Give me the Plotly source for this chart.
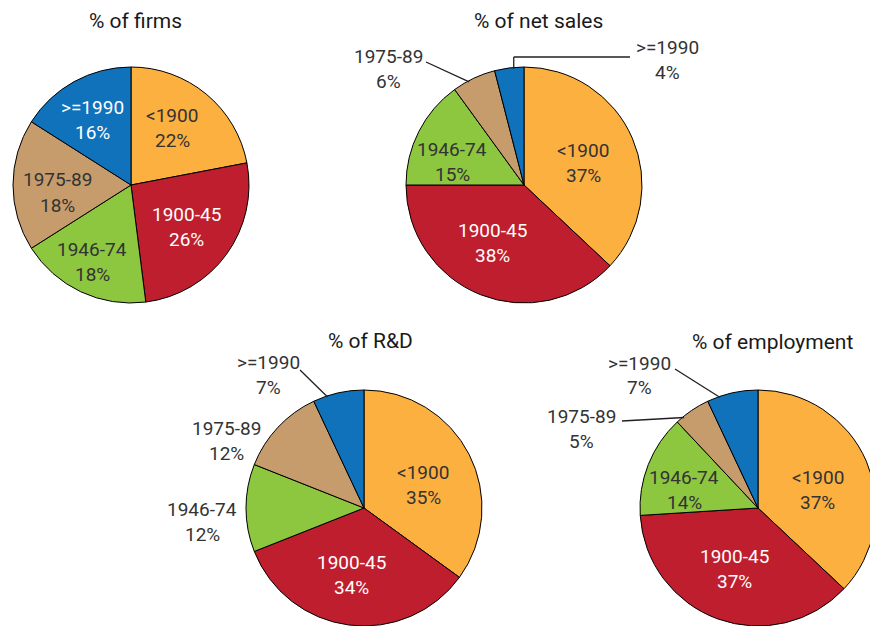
import math
import plotly.graph_objects as go

W, H = 870, 626          # window size
FIG_W = 880              # figure slightly wider than the window so the last pie can run off the edge

# ---------------- data ----------------
categories = ["<1900", "1900-45", "1946-74", "1975-89", ">=1990"]
firms = [22, 26, 18, 18, 16]
net_sales = [37, 38, 15, 6, 4]
rnd = [35, 34, 12, 12, 7]
employment = [37, 37, 14, 5, 7]
titles = ["% of firms", "% of net sales", "% of R&D", "% of employment"]

# ---------------- style / layout ----------------
colors = ["#FBB040", "#BE1E2D", "#8DC63F", "#C69C6D", "#0F72BA"]
text_colors = ["#333333", "#FFFFFF", "#333333", "#333333", "#FFFFFF"]
FONT = "Roboto"
LABEL_SIZE = 19
TITLE_SIZE = 21
LINE_GAP = 25
LINE_COLOR = "#231F20"

# label placement per slice (px offsets of the label block from the pie centre):
# ("in", dx, dy) or
# ("out", dx, dy, connector kind, connector start (dx, dy), fraction of the slice where it ends)
firms_lbl = [("in", 41, -57), ("in", 55, 41.5), ("in", -39, 76.5), ("in", -74, 7.5), ("in", -39, -65)]
sales_lbl = [("in", 59, -22.5), ("in", -31, 58), ("in", -72, -23),
             ("out", -136, -116, "line", (-98, -123), 0.37),
             ("out", 143, -125, "elbow", (106, -128), 0.65)]
rnd_lbl = [("in", 59, -23), ("in", -13, 67),
           ("out", -162, 13.5, None, None, None),
           ("out", -138, -67.5, None, None, None),
           ("out", -96, -133, "line", (-64, -138), 0.28)]
emp_lbl = [("in", 59.5, -18), ("in", -24, 61), ("in", -74, -18),
           ("out", -177, -79.5, "line", (-136, -87), 0.22),
           ("out", -119, -132.5, "line", (-83, -139), 0.25)]

pies = [
    dict(values=firms, title=titles[0], cx=131, cy=185, r=118, title_xy=(135, 21), lbl=firms_lbl),
    dict(values=net_sales, title=titles[1], cx=524, cy=185, r=118, title_xy=(538, 21), lbl=sales_lbl),
    dict(values=rnd, title=titles[2], cx=364, cy=508, r=118, title_xy=(370, 341), lbl=rnd_lbl),
    dict(values=employment, title=titles[3], cx=758, cy=509, r=118, title_xy=(772, 342), lbl=emp_lbl),
]


def px(x):
    return x / FIG_W


def py(y):
    return 1 - y / H


fig = go.Figure()
annotations = []
shapes = []

for p in pies:
    x0 = max(0.0, px(p["cx"] - p["r"]))
    x1 = min(1.0, px(p["cx"] + p["r"]))
    y0 = max(0.0, py(p["cy"] + p["r"]))
    y1 = min(1.0, py(p["cy"] - p["r"]))
    if y0 <= 0.0 and y1 < 1:
        y1 = min(1.0, 2 * p["r"] / H)
    # actual geometry as plotly renders it (window pixels)
    acx = (x0 + x1) / 2 * FIG_W
    acy = (1 - (y0 + y1) / 2) * H
    ar = min((x1 - x0) * FIG_W, (y1 - y0) * H) / 2

    fig.add_trace(go.Pie(
        values=p["values"], labels=categories, sort=False, direction="clockwise",
        rotation=0, textinfo="none", hoverinfo="label+percent", showlegend=False,
        marker=dict(colors=colors, line=dict(color="black", width=1)),
        domain=dict(x=[x0, x1], y=[y0, y1]),
    ))

    annotations.append(dict(
        x=px(p["title_xy"][0]), y=py(p["title_xy"][1]), xref="paper", yref="paper",
        text=p["title"], showarrow=False, xanchor="center", yanchor="middle",
        font=dict(family=FONT, size=TITLE_SIZE, color="#1A1A1A"),
    ))

    total = sum(p["values"])
    cum = 0
    for i, v in enumerate(p["values"]):
        start = cum
        cum += v
        spec = p["lbl"][i]
        pct = f"{round(v / total * 100)}%"
        bx = acx + spec[1]
        by = acy + spec[2]
        if spec[0] == "in":
            tcol = text_colors[i]
        else:
            tcol = "#333333"
            if spec[3] is not None:
                ang = (start + spec[5] * v) / total * 2 * math.pi
                ex = acx + 0.99 * ar * math.sin(ang)
                ey = acy - 0.99 * ar * math.cos(ang)
                sx, sy = acx + spec[4][0], acy + spec[4][1]
                if spec[3] == "line":
                    shapes.append(dict(type="line", xref="paper", yref="paper",
                                       x0=px(sx), y0=py(sy), x1=px(ex), y1=py(ey),
                                       line=dict(color=LINE_COLOR, width=1.3)))
                else:  # elbow: up from the slice, then across to the label
                    shapes.append(dict(type="line", xref="paper", yref="paper",
                                       x0=px(ex), y0=py(ey), x1=px(ex), y1=py(sy),
                                       line=dict(color=LINE_COLOR, width=1.3)))
                    shapes.append(dict(type="line", xref="paper", yref="paper",
                                       x0=px(ex), y0=py(sy), x1=px(sx), y1=py(sy),
                                       line=dict(color=LINE_COLOR, width=1.3)))
        for j, txt in enumerate([categories[i], pct]):
            annotations.append(dict(
                x=px(bx), y=py(by + (j - 0.5) * LINE_GAP), xref="paper", yref="paper",
                text=txt, showarrow=False, xanchor="center", yanchor="middle",
                font=dict(family=FONT, size=LABEL_SIZE, color=tcol),
            ))

fig.update_layout(
    width=FIG_W, height=H, margin=dict(l=0, r=0, t=0, b=0),
    paper_bgcolor="white", plot_bgcolor="white",
    annotations=annotations, shapes=shapes,
)

fig.write_html(
    "out.html",
    config={"displayModeBar": False},
    post_script="document.body.style.margin='0';document.body.style.overflow='hidden';",
)
